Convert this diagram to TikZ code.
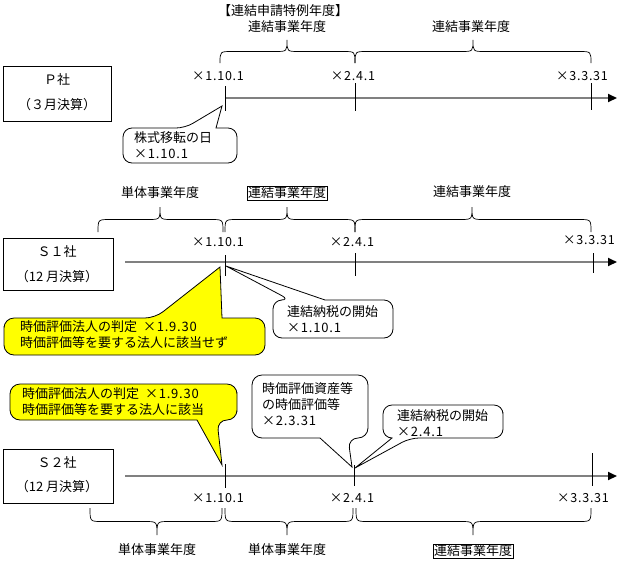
\documentclass[tikz,border=0pt]{standalone}
\usepackage{fontspec}
\setmainfont{Noto Sans CJK JP}
\newfontfamily\datefont[LetterSpace=6]{Noto Sans CJK JP}
\usetikzlibrary{arrows.meta}
\definecolor{axisgray}{HTML}{808080}
\definecolor{callyellow}{HTML}{FFFF00}
\newcommand\mybrc[5]{% x1 x2 xtip yend h(signed)
  \draw[bracestyle] (#1,#4) .. controls (#1,{#4+(#5)}) .. ({#1+12},{#4+(#5)})
    -- ({#3-12},{#4+(#5)}) .. controls (#3,{#4+(#5)}) .. (#3,{#4+2*(#5)})
    .. controls (#3,{#4+(#5)}) .. ({#3+12},{#4+(#5)})
    -- ({#2-12},{#4+(#5)}) .. controls (#2,{#4+(#5)}) .. (#2,#4);}
\tikzset{
  txt/.style={font=\fontsize{13}{16}\selectfont, inner sep=0pt, align=center},
  datetxt/.style={font=\datefont\fontsize{12.5}{16}\selectfont, inner sep=0pt},
  ltxt/.style={font=\fontsize{13}{16}\selectfont, inner sep=0pt, align=left, anchor=west},
  bracestyle/.style={draw=black, line width=0.7pt},
  company/.style={draw=black, line width=0.8pt},
  axis/.style={draw=axisgray, line width=2pt, -{Triangle[length=9pt,width=8pt,color=black]}},
  tickline/.style={draw=black, line width=0.8pt},
  callbox/.style={draw=black, line width=0.8pt, fill=white},
  yellowbox/.style={draw=black, line width=0.8pt, fill=callyellow},
  framed/.style={draw=black, line width=0.6pt, inner sep=1pt},
}
\begin{document}
\begin{tikzpicture}[x=1pt,y=-1pt]
\useasboundingbox (0,0) rectangle (620,565);
\fill[white] (0,0) rectangle (620,565);

% ================= P company =================
\draw[company] (3,66) rectangle (111,121);
\node[txt] (pname) at (57,80) {Ｐ社};
\node[txt] (pfy) at (57,105) {（３月決算）};

\coordinate (pa0) at (225,98);
\coordinate (pa1) at (617,98);
\draw[axis] (pa0) -- (pa1);
\coordinate (pt1a) at (225,86); \coordinate (pt1b) at (225,111);
\coordinate (pt2a) at (355,83); \coordinate (pt2b) at (355,111);
\coordinate (pt3a) at (591,83); \coordinate (pt3b) at (591,110);
\draw[tickline] (pt1a) -- (pt1b);
\draw[tickline] (pt2a) -- (pt2b);
\draw[tickline] (pt3a) -- (pt3b);
\node[datetxt] (pd1) at (218,76) {×1.10.1};
\node[datetxt] (pd2) at (353,76) {×2.4.1};
\node[datetxt] (pd3) at (582,76) {×3.3.31};

\mybrc{220}{355}{287}{63}{-11.5}
\mybrc{355}{591}{473}{63}{-11.5}
\node[txt] (plab0) at (283,11) {【連結申請特例年度】};
\node[txt] (plab1) at (287,27) {連結事業年度};
\node[txt] (plab2) at (471,27) {連結事業年度};

% callout: 株式移転の日
\draw[callbox] (123,145) [rounded corners=9pt] -- (123,128) -- (185,128) [sharp corners] -- (222,106) -- (216,128) [rounded corners=9pt] -- (237,128) -- (237,163) -- (123,163) -- cycle;
\node[ltxt] (pcall) at (134,145) {株式移転の日\\{\datefont ×1.10.1}};

% ================= S1 company =================
\draw[company] (3,238) rectangle (113,290);
\node[txt] (s1name) at (57,252) {Ｓ１社};
\node[txt] (s1fy) at (57,277) {（12 月決算）};

\coordinate (sa0) at (125,262);
\coordinate (sa1) at (617,262);
\draw[axis] (sa0) -- (sa1);
\coordinate (st1a) at (225,255); \coordinate (st1b) at (225,276);
\coordinate (st2a) at (355,253); \coordinate (st2b) at (355,276);
\coordinate (st3a) at (593,253); \coordinate (st3b) at (593,273);
\draw[tickline] (st1a) -- (st1b);
\draw[tickline] (st2a) -- (st2b);
\draw[tickline] (st3a) -- (st3b);
\node[datetxt] (sd1) at (218,242) {×1.10.1};
\node[datetxt] (sd2) at (352,242) {×2.4.1};
\node[datetxt] (sd3) at (589,240) {×3.3.31};

\mybrc{98}{223}{160}{232}{-12.5}
\mybrc{225}{355}{287}{232}{-12.5}
\mybrc{355}{591}{472}{232}{-12.5}
\node[txt] (slab1) at (160,193) {単体事業年度};
\node[txt,framed] (slab2) at (287,193) {連結事業年度};
\node[txt] (slab3) at (472,192) {連結事業年度};

% yellow callout S1
\draw[yellowbox] (4,336) [rounded corners=10pt] -- (4,318) -- (155,318) [sharp corners] -- (220,267) -- (222,318) [rounded corners=10pt] -- (265,318) -- (265,355) -- (4,355) -- cycle;
\node[ltxt] (s1y) at (20,335) {時価評価法人の判定\ \ {\datefont ×1.9.30}\\時価評価等を要する法人に該当せず};

% callout 連結納税 S1
\draw[callbox] (273,319) [rounded corners=9pt] -- (273,300) -- (290,300) [sharp corners] -- (226,266) -- (325,300) [rounded corners=9pt] -- (393,300) -- (393,338) -- (273,338) -- cycle;
\node[ltxt] (s1c) at (287,319) {連結納税の開始\\{\datefont ×1.10.1}};

% ================= S2 company =================
\draw[company] (3,449) rectangle (113,503);
\node[txt] (s2name) at (57,463) {Ｓ２社};
\node[txt] (s2fy) at (57,487) {（12 月決算）};

\coordinate (ta0) at (125,476);
\coordinate (ta1) at (617,476);
\draw[axis] (ta0) -- (ta1);
\coordinate (tt1a) at (225,464); \coordinate (tt1b) at (225,488);
\coordinate (tt2a) at (354,465); \coordinate (tt2b) at (354,486);
\coordinate (tt3a) at (592,453); \coordinate (tt3b) at (592,486);
\draw[tickline] (tt1a) -- (tt1b);
\draw[tickline] (tt2a) -- (tt2b);
\draw[tickline] (tt3a) -- (tt3b);
\node[datetxt] (td1) at (218,498) {×1.10.1};
\node[datetxt] (td2) at (352,498) {×2.4.1};
\node[datetxt] (td3) at (583,498) {×3.3.31};

\mybrc{90}{222}{157}{508}{13.5}
\mybrc{225}{353}{287}{508}{13.5}
\mybrc{356}{591}{473}{508}{13.5}
\node[txt] (tlab1) at (157,550) {単体事業年度};
\node[txt] (tlab2) at (287,550) {単体事業年度};
\node[txt,framed] (tlab3) at (473,551) {連結事業年度};

% yellow callout S2
\draw[yellowbox] (237,402) [rounded corners=10pt] -- (237,420) -- (217,420) [sharp corners] -- (222,465) -- (197,420) [rounded corners=10pt] -- (10,420) -- (10,384) -- (237,384) -- cycle;
\node[ltxt] (s2y) at (22,402) {時価評価法人の判定\ \ {\datefont ×1.9.30}\\時価評価等を要する法人に該当};

% callout 時価評価資産等
\draw[callbox] (368,406) [rounded corners=10pt] -- (368,438) -- (348,438) [sharp corners] -- (352,467) -- (320,438) [rounded corners=10pt] -- (252,438) -- (252,375) -- (368,375) -- cycle;
\node[ltxt] (s2c1) at (262,404) {時価評価資産等\\の時価評価等\\{\datefont ×2.3.31}};

% callout 連結納税 S2
\draw[callbox] (503,421) [rounded corners=9pt] -- (503,438) -- (410,438) [sharp corners] -- (355,468) -- (392,438) [rounded corners=9pt] -- (383,438) -- (383,405) -- (503,405) -- cycle;
\node[ltxt] (s2c2) at (397,423) {連結納税の開始\\{\datefont ×2.4.1}};
\end{tikzpicture}
\end{document}
